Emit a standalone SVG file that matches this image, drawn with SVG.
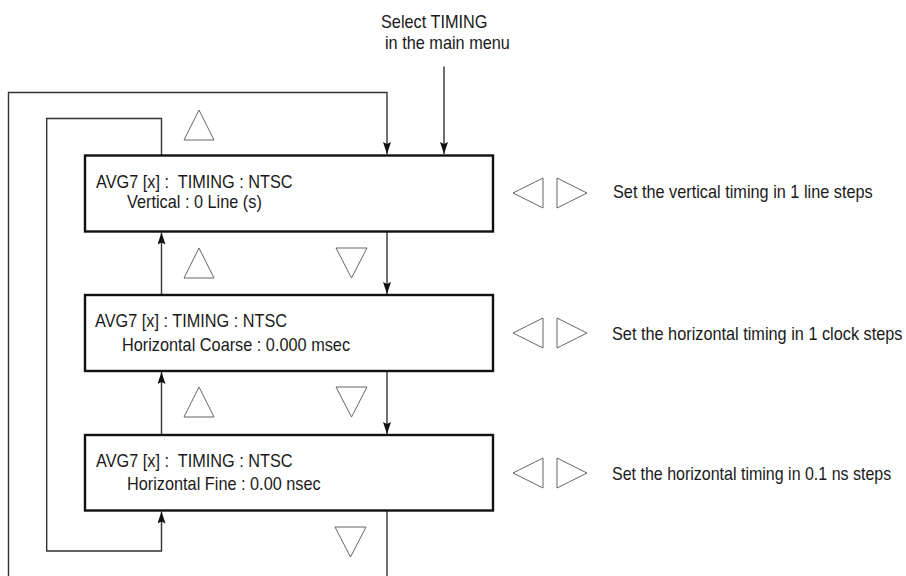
<svg xmlns="http://www.w3.org/2000/svg" width="906" height="576" viewBox="0 0 906 576">
<defs>
<marker id="ah" viewBox="0 0 12 8" refX="12" refY="4" markerWidth="12" markerHeight="8" markerUnits="userSpaceOnUse" orient="auto">
<path d="M0,0 L12,4 L0,8 L2,4 Z" fill="#111"/>
</marker>
<style>
.t{font-family:"Liberation Sans",Arial,sans-serif;font-size:18px;fill:#1a1a1a}
.box{fill:#fff;stroke:#111;stroke-width:2.4}
.c{fill:none;stroke:#333;stroke-width:1.4}
.tri{fill:none;stroke:#555;stroke-width:0.9}
</style>
</defs>
<rect width="906" height="576" fill="#fff"/>
<g id="connectors">
<path class="c" d="M387,511 V576"/>
<path class="c" d="M8.5,576 V92.5 H387 V154" marker-end="url(#ah)"/>
<path class="c" d="M444,66.5 V154" marker-end="url(#ah)"/>
<path class="c" d="M161.5,155 V118.5 H46.7 V551 H161.5 V511.5" marker-end="url(#ah)"/>
<path class="c" d="M387,232 V294" marker-end="url(#ah)"/>
<path class="c" d="M387,372 V434" marker-end="url(#ah)"/>
<path class="c" d="M161.5,295 V232.5" marker-end="url(#ah)"/>
<path class="c" d="M161.5,435 V372" marker-end="url(#ah)"/>
</g>
<g id="entry-label">
<text class="t" transform="translate(381,28) scale(0.905,1)">Select TIMING</text>
<text class="t" transform="translate(385,48.5) scale(0.905,1)">in the main menu</text>
</g>
<g id="node-vertical">
<rect class="box" x="85" y="155.5" width="408" height="76"/>
<text class="t" transform="translate(96,188.3) scale(0.905,1)">AVG7 [x] :&#160; TIMING : NTSC</text>
<text class="t" transform="translate(127,207.5) scale(0.905,1)">Vertical : 0 Line (s)</text>
</g>
<g id="node-coarse">
<rect class="box" x="85" y="295" width="408" height="76"/>
<text class="t" transform="translate(95,326.7) scale(0.905,1)">AVG7 [x] : TIMING : NTSC</text>
<text class="t" transform="translate(122,351) scale(0.905,1)">Horizontal Coarse : 0.000 msec</text>
</g>
<g id="node-fine">
<rect class="box" x="85" y="435" width="408" height="75.5"/>
<text class="t" transform="translate(96,466.7) scale(0.905,1)">AVG7 [x] :&#160; TIMING : NTSC</text>
<text class="t" transform="translate(127,490) scale(0.905,1)">Horizontal Fine : 0.00 nsec</text>
</g>
<g id="nav-up-down">
<polygon class="tri" points="184,140 214,140 199,110"/>
<polygon class="tri" points="184,278 214,278 199,248"/>
<polygon class="tri" points="336,248 367,248 351.5,278"/>
<polygon class="tri" points="184,417 214,417 199,387"/>
<polygon class="tri" points="336,387 367,387 351.5,417"/>
<polygon class="tri" points="335,527 366,527 350.5,557"/>
</g>
<g id="nav-left-right">
<polygon class="tri" points="513,193 543,178 543,208"/>
<polygon class="tri" points="557,178 557,208 587,193"/>
<polygon class="tri" points="513,333 543,318 543,348"/>
<polygon class="tri" points="557,318 557,348 587,333"/>
<polygon class="tri" points="513,473 543,458 543,488"/>
<polygon class="tri" points="557,458 557,488 587,473"/>
</g>
<g id="descriptions">
<text class="t" transform="translate(613,198.3) scale(0.905,1)">Set the vertical timing in 1 line steps</text>
<text class="t" transform="translate(612,340) scale(0.905,1)">Set the horizontal timing in 1 clock steps</text>
<text class="t" transform="translate(612,479.5) scale(0.89,1)">Set the horizontal timing in 0.1 ns steps</text>
</g>
</svg>
